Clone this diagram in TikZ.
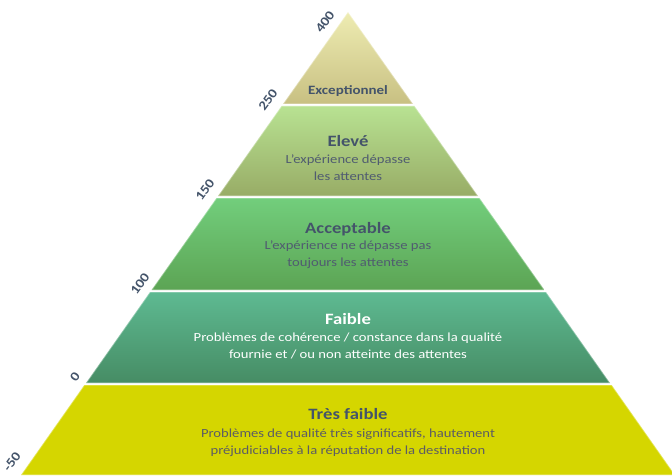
\documentclass[tikz,border=0pt]{standalone}
\usepackage{fontspec}
\setmainfont{Carlito}[FakeStretch=1.18]
\usepackage{xcolor}
\definecolor{pyramidText}{RGB}{68,84,106}
\definecolor{descText}{RGB}{80,92,112}
\definecolor{greyText}{RGB}{92,92,100}
\definecolor{topLight}{RGB}{238,236,178}
\definecolor{topDark}{RGB}{200,192,130}
\definecolor{eleveLight}{RGB}{184,226,146}
\definecolor{eleveDark}{RGB}{152,172,102}
\definecolor{acceptLight}{RGB}{114,206,124}
\definecolor{acceptDark}{RGB}{92,164,84}
\definecolor{faibleLight}{RGB}{94,186,146}
\definecolor{faibleDark}{RGB}{70,140,100}
\definecolor{tresFaibleFill}{RGB}{213,214,0}

\begin{document}
\begin{tikzpicture}[x=1pt, y=1pt]
            % Styles
            \tikzstyle{bevel} = [line width=1.4pt, line join=round, draw=white, draw opacity=0.35]
            \tikzstyle{title} = [font=\fontsize{15.8}{18}\selectfont\bfseries, text=pyramidText, inner sep=0pt]
            \tikzstyle{descr} = [font=\fontsize{12.4}{17}\selectfont, text=descText, align=center, inner sep=0pt]
            \tikzstyle{score} = [font=\fontsize{13}{15}\selectfont\bfseries, text=pyramidText, rotate=54, inner sep=0pt]

            \useasboundingbox (0,0) rectangle (672,475);
            \clip (0,0) rectangle (672,475);

            % Levels
            \shade[top color=topLight, bottom color=topDark]
                (348,463) -- (413,371) -- (283,371) -- cycle;
            \draw[bevel] (348,463) -- (413,371) -- (283,371) -- cycle;
            \shade[top color=eleveLight, bottom color=eleveDark]
                (281.5,369) -- (414.5,369) -- (478,279) -- (218,279) -- cycle;
            \draw[bevel] (281.5,369) -- (414.5,369) -- (478,279) -- (218,279) -- cycle;
            \shade[top color=acceptLight, bottom color=acceptDark]
                (216.5,277) -- (479.5,277) -- (544.5,185) -- (151.5,185) -- cycle;
            \draw[bevel] (216.5,277) -- (479.5,277) -- (544.5,185) -- (151.5,185) -- cycle;
            \shade[top color=faibleLight, bottom color=faibleDark]
                (150,183) -- (546,183) -- (610,92) -- (86,92) -- cycle;
            \draw[bevel] (150,183) -- (546,183) -- (610,92) -- (86,92) -- cycle;
            \fill[tresFaibleFill]
                (84.3,90) -- (611.7,90) -- (675,0) -- (21,0) -- cycle;
            \draw[bevel] (84.3,90) -- (611.7,90) -- (675,0) -- (21,0) -- cycle;

            % Titles
            \node[title, font=\fontsize{12.7}{14}\selectfont\bfseries] (exceptionnel) at (348,384) {Exceptionnel};
            \node[title] (eleve) at (348,334) {Elevé};
            \node[descr] (eleveText) at (348,307.5) {L’expérience dépasse\\les attentes};
            \node[title] (acceptable) at (348,246) {Acceptable};
            \node[descr] (acceptableText) at (348,220.5) {L’expérience ne dépasse pas\\toujours les attentes};
            \node[title, text=white] (faible) at (348,156) {Faible};
            \node[descr, text=white] (faibleText) at (348,129) {Problèmes de cohérence / constance dans la qualité\\fournie et / ou non atteinte des attentes};
            \node[title] (tresFaible) at (348,61) {Très faible};
            \node[descr, text=greyText] (tresFaibleText) at (348,32.5) {Problèmes de qualité très significatifs, hautement\\préjudiciables à la réputation de la destination};

            % Scores
            \node[score] (s400) at (325,453) {400};
            \node[score] (s250) at (268,375) {250};
            \node[score] (s150) at (205,285) {150};
            \node[score] (s100) at (140,191) {100};
            \node[score] (s0) at (75,98) {0};
            \node[score] (s-50) at (12,13) {-50};
        \end{tikzpicture}
\end{document}
